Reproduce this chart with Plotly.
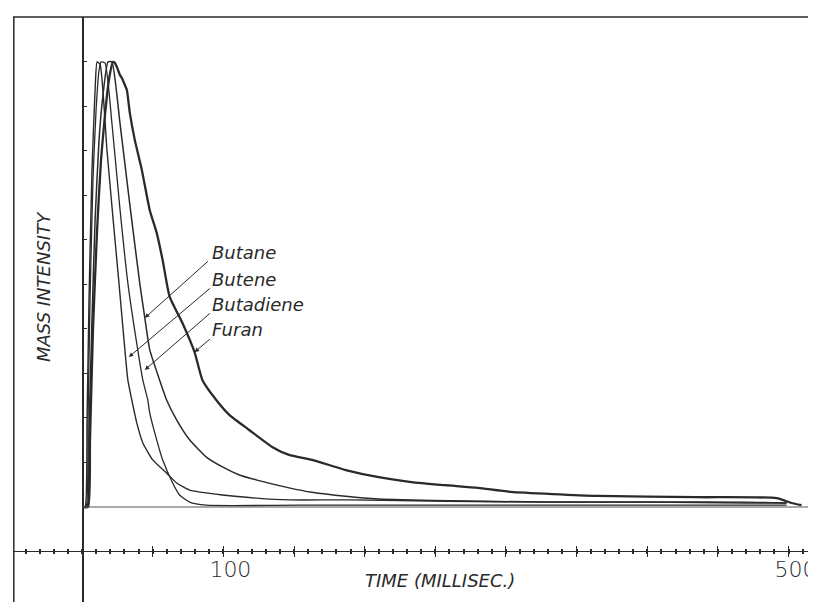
import plotly.graph_objects as go

# time (ms) and normalised mass intensity
butene_t = [0, 2.1, 3.5, 4.9, 7.0, 9.2, 10.6, 12.7, 17.6, 21.8, 26.1, 30.3, 32.4, 35.2, 38.7, 43.0,
            50.0, 59.9, 66.9, 76.1, 99.3, 123.2, 146.5, 188.7, 259.2, 329.6, 400.0, 470.4, 498.6]
butene_i = [0, 0, 0.196, 0.465, 0.757, 0.937, 1.0, 0.995, 0.802, 0.652, 0.503, 0.353, 0.285, 0.24, 0.189, 0.144,
            0.106, 0.076, 0.054, 0.038, 0.027, 0.02, 0.016, 0.016, 0.013, 0.011, 0.011, 0.011, 0.009]

butadiene_t = [0, 2.8, 4.2, 5.6, 7.7, 9.9, 12.0, 13.4, 16.2, 21.1, 26.8, 32.4, 39.4, 43.0, 46.5, 47.9,
               52.8, 57.0, 64.1, 69.0, 76.1, 88.0, 153.5, 294.0, 400.0, 498.6]
butadiene_i = [0, 0, 0.196, 0.465, 0.735, 0.892, 0.982, 1.0, 0.998, 0.863, 0.67, 0.503, 0.353, 0.285, 0.24, 0.211,
               0.151, 0.106, 0.054, 0.027, 0.011, 0.004, 0.004, 0.004, 0.004, 0.004]

butane_t = [0, 3.5, 4.9, 7.0, 9.2, 12.0, 14.8, 18.3, 21.1, 26.8, 33.8, 40.8, 44.4, 47.9, 54.9, 59.9,
            66.9, 76.1, 88.0, 99.3, 111.3, 123.2, 146.5, 162.7, 186.6, 209.9, 259.2, 329.6, 400.0, 470.4, 498.6]
butane_i = [0, 0, 0.173, 0.42, 0.645, 0.825, 0.926, 1.0, 1.0, 0.863, 0.679, 0.503, 0.425, 0.353, 0.285, 0.24,
            0.196, 0.151, 0.112, 0.09, 0.072, 0.061, 0.043, 0.033, 0.024, 0.018, 0.014, 0.011, 0.011, 0.009, 0.009]

furan_t = [0, 4.2, 5.6, 7.7, 10.6, 13.4, 16.2, 19.0, 21.8, 23.2, 24.6, 26.8, 28.2, 30.3, 31.7, 33.8,
           37.3, 42.3, 47.9, 52.8, 57.0, 62.0, 71.1, 79.6, 85.2, 95.1, 104.2, 118.3, 134.5, 146.5, 162.7,
           186.6, 209.9, 233.1, 257.0, 280.3, 303.5, 364.8, 435.2, 491.5, 502.1, 509.2]
furan_i = [0, 0, 0.151, 0.398, 0.622, 0.78, 0.881, 0.96, 1.0, 0.998, 0.989, 0.971, 0.964, 0.948, 0.937, 0.885,
           0.825, 0.757, 0.667, 0.616, 0.555, 0.472, 0.413, 0.348, 0.285, 0.24, 0.207, 0.173, 0.135, 0.117, 0.106,
           0.083, 0.067, 0.056, 0.049, 0.043, 0.034, 0.025, 0.022, 0.02, 0.009, 0.004]

# label text, where its arrow starts, and the point on the curve it touches
label_names = ["Butane", "Butene", "Butadiene", "Furan"]
label_y = [0.571, 0.512, 0.456, 0.398]
arrow_tail = [(90.1, 0.555), (91.5, 0.494), (91.5, 0.438), (91.5, 0.380)]
arrow_tip = [(44.4, 0.425), (33.1, 0.337), (44.4, 0.308), (79.6, 0.348)]

x_tickvals = list(range(-50, 551, 50))
x_ticktext = ["100" if v == 100 else "500" if v == 500 else "" for v in x_tickvals]
y_tickvals = [0.1, 0.2, 0.3, 0.4, 0.5, 0.6, 0.7, 0.8, 0.9, 1.0]

INK = "#2a2a2a"
FONT = "DejaVu Sans"

fig = go.Figure()

series = [
    ("Butene", butene_t, butene_i, 1.4),
    ("Butadiene", butadiene_t, butadiene_i, 1.3),
    ("Butane", butane_t, butane_i, 1.5),
    ("Furan", furan_t, furan_i, 2.3),
]
for name, t, i, w in series:
    fig.add_trace(
        go.Scatter(
            x=t,
            y=i,
            mode="lines",
            name=name,
            line=dict(color=INK, width=w, shape="spline", smoothing=0.5),
            showlegend=False,
        )
    )

annotations = []
for name, ly, tail, tip in zip(label_names, label_y, arrow_tail, arrow_tip):
    annotations.append(
        dict(
            x=90.5, y=ly, xref="x", yref="y", text=name, showarrow=False,
            xanchor="left", yanchor="middle",
            font=dict(family=FONT, size=18, color=INK, style="italic", weight=200),
        )
    )
    annotations.append(
        dict(
            x=tip[0], y=tip[1], ax=tail[0], ay=tail[1], xref="x", yref="y",
            axref="x", ayref="y", text="", showarrow=True,
            arrowhead=2, arrowsize=0.9, arrowwidth=1, arrowcolor=INK,
        )
    )

annotations.append(
    dict(
        x=0.0374, y=0.54, xref="paper", yref="paper", text="MASS INTENSITY",
        showarrow=False, textangle=-90, xanchor="center", yanchor="middle",
        font=dict(family=FONT, size=18, color=INK, style="italic", weight=200),
    )
)
annotations.append(
    dict(
        x=0.535, y=0.036, xref="paper", yref="paper", text="TIME (MILLISEC.)",
        showarrow=False, xanchor="center", yanchor="middle",
        font=dict(family=FONT, size=18, color=INK, style="italic", weight=200),
    )
)

# the page body has an 8px margin, so the figure is shrunk and shifted to compensate
fig.update_layout(
    width=808,
    height=594,
    margin=dict(l=5, r=0, t=9, b=0),
    paper_bgcolor="white",
    plot_bgcolor="white",
    annotations=annotations,
    shapes=[
        dict(type="line", xref="paper", yref="paper", x0=0, x1=1, y0=1, y1=1,
             line=dict(color=INK, width=1.5)),
        dict(type="line", xref="paper", yref="paper", x0=0.001, x1=0.001, y0=0, y1=1,
             line=dict(color=INK, width=1.5)),
        dict(type="line", xref="x", yref="y", x0=0, x1=520, y0=0, y1=0,
             line=dict(color="#555555", width=1.2)),
    ],
    xaxis=dict(
        range=[-48.9, 516.6],
        anchor="free",
        position=0.0872,
        showline=True,
        linecolor=INK,
        linewidth=1.2,
        showgrid=False,
        zeroline=False,
        tickmode="array",
        tickvals=x_tickvals,
        ticktext=x_ticktext,
        ticks="outside",
        ticklen=5,
        tickwidth=1.2,
        tickcolor=INK,
        ticklabelshift=7,
        ticklabelstandoff=-6,
        ticklabeloverflow="allow",
        tickfont=dict(family=FONT, size=22, color=INK, weight=200),
        minor=dict(tickmode="linear", tick0=0, dtick=10, ticks="outside",
                   ticklen=2, tickwidth=1.5, tickcolor=INK),
    ),
    xaxis2=dict(
        range=[-48.9, 516.6],
        overlaying="x",
        anchor="free",
        position=0.0872,
        showline=False,
        showgrid=False,
        zeroline=False,
        showticklabels=False,
        tickmode="array",
        tickvals=x_tickvals,
        ticks="inside",
        ticklen=5,
        tickwidth=1.2,
        tickcolor=INK,
        minor=dict(tickmode="linear", tick0=0, dtick=10, ticks="inside",
                   ticklen=2, tickwidth=1.5, tickcolor=INK),
    ),
    yaxis=dict(
        range=[-0.2135, 1.1011],
        anchor="free",
        position=0.0872,
        showline=True,
        linecolor=INK,
        linewidth=1.5,
        showgrid=False,
        zeroline=False,
        showticklabels=False,
        tickmode="array",
        tickvals=y_tickvals,
        ticks="inside",
        ticklen=4,
        tickwidth=1,
        tickcolor=INK,
    ),
)

# empty trace so the overlaid tick axis gets drawn
fig.add_trace(go.Scatter(x=[None], y=[None], xaxis="x2", yaxis="y", showlegend=False, hoverinfo="skip"))

fig.write_html("out.html")
